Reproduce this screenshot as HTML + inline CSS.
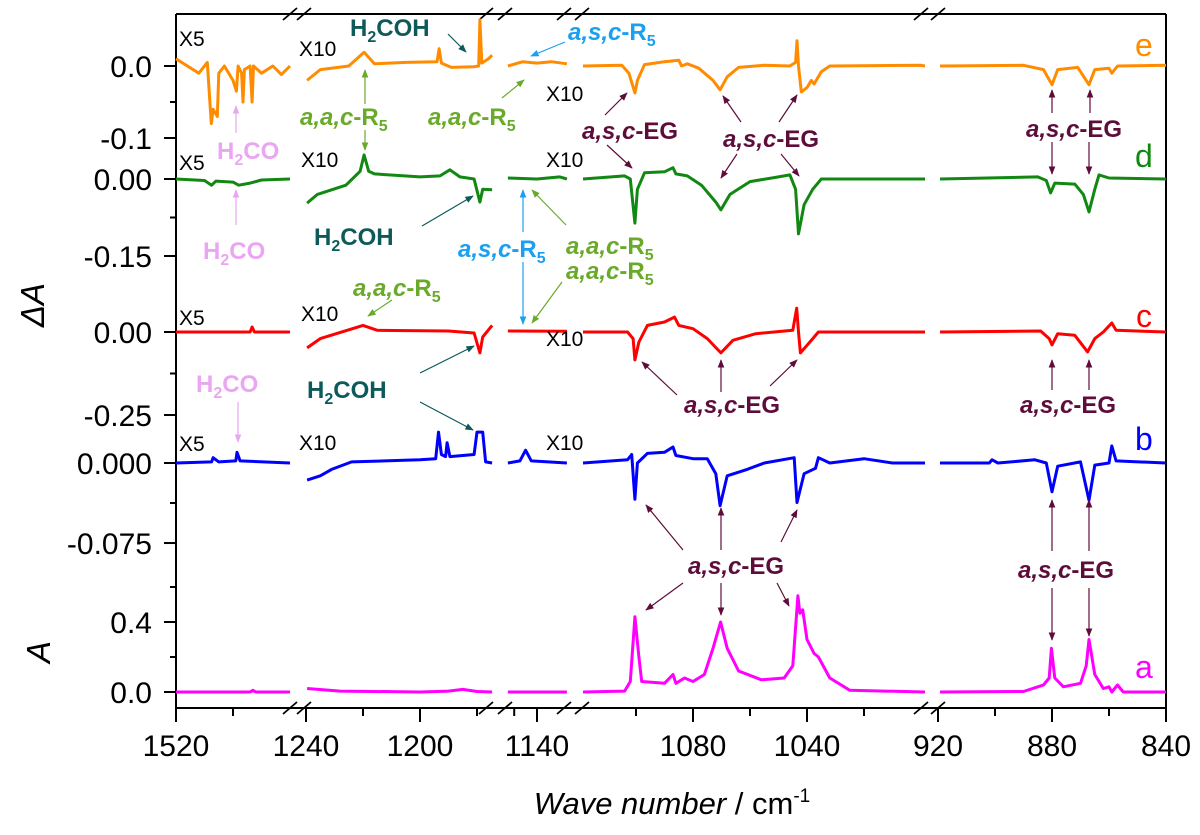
<!DOCTYPE html>
<html><head><meta charset="utf-8"><style>
html,body{margin:0;padding:0;background:#fff;}
svg{display:block;font-family:"Liberation Sans",Arial,sans-serif;}
</style></head><body>
<svg id="chart" width="1200" height="835" viewBox="0 0 1200 835" xmlns="http://www.w3.org/2000/svg">
<defs>
<marker id="mEG" viewBox="0 0 10 10" refX="9" refY="5" markerWidth="7" markerHeight="7" orient="auto-start-reverse"><path d="M0,1 L10,5 L0,9 z" fill="#5e0d3b"/></marker>
<marker id="mGR" viewBox="0 0 10 10" refX="9" refY="5" markerWidth="7" markerHeight="7" orient="auto-start-reverse"><path d="M0,1 L10,5 L0,9 z" fill="#6aaa2a"/></marker>
<marker id="mBL" viewBox="0 0 10 10" refX="9" refY="5" markerWidth="7" markerHeight="7" orient="auto-start-reverse"><path d="M0,1 L10,5 L0,9 z" fill="#1aa0f0"/></marker>
<marker id="mTE" viewBox="0 0 10 10" refX="9" refY="5" markerWidth="7" markerHeight="7" orient="auto-start-reverse"><path d="M0,1 L10,5 L0,9 z" fill="#0e5a5a"/></marker>
<marker id="mPK" viewBox="0 0 10 10" refX="9" refY="5" markerWidth="7" markerHeight="7" orient="auto-start-reverse"><path d="M0,1 L10,5 L0,9 z" fill="#eaa6f2"/></marker>
</defs>
<g id="axes"></g>
<g id="traces"></g>
<g id="annot" font-weight="bold" font-size="24">
  <g font-weight="normal" font-size="21" fill="#000">
    <text x="179" y="46">X5</text><text x="179" y="170">X5</text><text x="179" y="325">X5</text><text x="179" y="451">X5</text>
    <text x="299" y="56">X10</text><text x="301" y="167">X10</text><text x="301" y="321">X10</text><text x="299" y="450">X10</text>
    <text x="546" y="101">X10</text><text x="546" y="167">X10</text><text x="546" y="346">X10</text><text x="546" y="450">X10</text>
  </g>
  <g font-weight="normal" font-size="32">
    <text x="1135" y="56" fill="#ff8c00">e</text>
    <text x="1135" y="167" fill="#118811">d</text>
    <text x="1136" y="327" fill="#ff0000">c</text>
    <text x="1135" y="450" fill="#0000ff">b</text>
    <text x="1135" y="678" fill="#ff00ff">a</text>
  </g>
  <g fill="#eaa6f2" stroke="#eaa6f2">
    <text x="217" y="159" stroke="none">H<tspan font-size="16" dy="6">2</tspan><tspan dy="-6">CO</tspan></text>
    <line x1="236" y1="133" x2="236" y2="106" stroke-width="1.2" marker-end="url(#mPK)"/>
    <text x="203" y="259" stroke="none">H<tspan font-size="16" dy="6">2</tspan><tspan dy="-6">CO</tspan></text>
    <line x1="236" y1="225" x2="236" y2="190" stroke-width="1.2" marker-end="url(#mPK)"/>
    <text x="196" y="392" stroke="none">H<tspan font-size="16" dy="6">2</tspan><tspan dy="-6">CO</tspan></text>
    <line x1="238" y1="402" x2="238" y2="442" stroke-width="1.2" marker-end="url(#mPK)"/>
  </g>
  <g fill="#0e5a5a" stroke="#0e5a5a">
    <text x="350" y="36" stroke="none">H<tspan font-size="16" dy="6">2</tspan><tspan dy="-6">COH</tspan></text>
    <line x1="448" y1="34" x2="466" y2="52" stroke-width="1.2" marker-end="url(#mTE)"/>
    <text x="314" y="245" stroke="none">H<tspan font-size="16" dy="6">2</tspan><tspan dy="-6">COH</tspan></text>
    <line x1="422" y1="226" x2="473" y2="196" stroke-width="1.2" marker-end="url(#mTE)"/>
    <text x="307" y="398" stroke="none">H<tspan font-size="16" dy="6">2</tspan><tspan dy="-6">COH</tspan></text>
    <line x1="420" y1="373" x2="474" y2="346" stroke-width="1.2" marker-end="url(#mTE)"/>
    <line x1="420" y1="402" x2="473" y2="430" stroke-width="1.2" marker-end="url(#mTE)"/>
  </g>
  <g fill="#6aaa2a" stroke="#6aaa2a">
    <text x="300" y="125" stroke="none"><tspan font-style="italic">a,a,c</tspan>-R<tspan font-size="16" dy="6">5</tspan></text>
    <line x1="365" y1="104" x2="365" y2="70" stroke-width="1.2" marker-end="url(#mGR)"/>
    <line x1="365" y1="130" x2="365" y2="150" stroke-width="1.2" marker-end="url(#mGR)"/>
    <text x="428" y="125" stroke="none"><tspan font-style="italic">a,a,c</tspan>-R<tspan font-size="16" dy="6">5</tspan></text>
    <line x1="502" y1="98" x2="524" y2="80" stroke-width="1.2" marker-end="url(#mGR)"/>
    <text x="353" y="296" stroke="none"><tspan font-style="italic">a,a,c</tspan>-R<tspan font-size="16" dy="6">5</tspan></text>
    <line x1="392" y1="300" x2="368" y2="316" stroke-width="1.2" marker-end="url(#mGR)"/>
    <text x="566" y="254" stroke="none"><tspan font-style="italic">a,a,c</tspan>-R<tspan font-size="16" dy="6">5</tspan></text>
    <text x="566" y="279" stroke="none"><tspan font-style="italic">a,a,c</tspan>-R<tspan font-size="16" dy="6">5</tspan></text>
    <line x1="566" y1="225" x2="532" y2="190" stroke-width="1.2" marker-end="url(#mGR)"/>
    <line x1="562" y1="282" x2="532" y2="323" stroke-width="1.2" marker-end="url(#mGR)"/>
  </g>
  <g fill="#1aa0f0" stroke="#1aa0f0">
    <text x="568" y="40" stroke="none"><tspan font-style="italic">a,s,c</tspan>-R<tspan font-size="16" dy="6">5</tspan></text>
    <line x1="565" y1="42" x2="531" y2="56" stroke-width="1.2" marker-end="url(#mBL)"/>
    <text x="458" y="257" stroke="none"><tspan font-style="italic">a,s,c</tspan>-R<tspan font-size="16" dy="6">5</tspan></text>
    <line x1="523" y1="232" x2="523" y2="190" stroke-width="1.2" marker-end="url(#mBL)"/>
    <line x1="523" y1="262" x2="523" y2="324" stroke-width="1.2" marker-end="url(#mBL)"/>
  </g>
  <g fill="#5e0d3b" stroke="#5e0d3b">
    <text x="582" y="139" stroke="none"><tspan font-style="italic">a,s,c</tspan>-EG</text>
    <line x1="605" y1="115" x2="627" y2="93" stroke-width="1.2" marker-end="url(#mEG)"/>
    <line x1="607" y1="145" x2="632" y2="168" stroke-width="1.2" marker-end="url(#mEG)"/>
    <text x="723" y="147" stroke="none"><tspan font-style="italic">a,s,c</tspan>-EG</text>
    <line x1="741" y1="122" x2="723" y2="96" stroke-width="1.2" marker-end="url(#mEG)"/>
    <line x1="779" y1="122" x2="797" y2="95" stroke-width="1.2" marker-end="url(#mEG)"/>
    <line x1="737" y1="154" x2="721" y2="178" stroke-width="1.2" marker-end="url(#mEG)"/>
    <line x1="781" y1="154" x2="799" y2="176" stroke-width="1.2" marker-end="url(#mEG)"/>
    <text x="1026" y="137" stroke="none"><tspan font-style="italic">a,s,c</tspan>-EG</text>
    <line x1="1052" y1="113" x2="1052" y2="90" stroke-width="1.2" marker-end="url(#mEG)"/>
    <line x1="1090" y1="113" x2="1090" y2="90" stroke-width="1.2" marker-end="url(#mEG)"/>
    <line x1="1052" y1="142" x2="1052" y2="174" stroke-width="1.2" marker-end="url(#mEG)"/>
    <line x1="1089" y1="142" x2="1089" y2="174" stroke-width="1.2" marker-end="url(#mEG)"/>
    <text x="684" y="413" stroke="none"><tspan font-style="italic">a,s,c</tspan>-EG</text>
    <line x1="677" y1="395" x2="642" y2="362" stroke-width="1.2" marker-end="url(#mEG)"/>
    <line x1="721" y1="392" x2="721" y2="360" stroke-width="1.2" marker-end="url(#mEG)"/>
    <line x1="770" y1="386" x2="797" y2="360" stroke-width="1.2" marker-end="url(#mEG)"/>
    <text x="1020" y="413" stroke="none"><tspan font-style="italic">a,s,c</tspan>-EG</text>
    <line x1="1052" y1="390" x2="1052" y2="360" stroke-width="1.2" marker-end="url(#mEG)"/>
    <line x1="1089" y1="390" x2="1089" y2="360" stroke-width="1.2" marker-end="url(#mEG)"/>
    <text x="688" y="574" stroke="none"><tspan font-style="italic">a,s,c</tspan>-EG</text>
    <line x1="683" y1="550" x2="646" y2="505" stroke-width="1.2" marker-end="url(#mEG)"/>
    <line x1="721" y1="550" x2="721" y2="508" stroke-width="1.2" marker-end="url(#mEG)"/>
    <line x1="781" y1="542" x2="797" y2="510" stroke-width="1.2" marker-end="url(#mEG)"/>
    <line x1="683" y1="583" x2="646" y2="610" stroke-width="1.2" marker-end="url(#mEG)"/>
    <line x1="721" y1="583" x2="721" y2="615" stroke-width="1.2" marker-end="url(#mEG)"/>
    <line x1="777" y1="583" x2="789" y2="606" stroke-width="1.2" marker-end="url(#mEG)"/>
    <text x="1018" y="578" stroke="none"><tspan font-style="italic">a,s,c</tspan>-EG</text>
    <line x1="1052" y1="551" x2="1052" y2="500" stroke-width="1.2" marker-end="url(#mEG)"/>
    <line x1="1089" y1="551" x2="1089" y2="500" stroke-width="1.2" marker-end="url(#mEG)"/>
    <line x1="1052" y1="588" x2="1052" y2="640" stroke-width="1.2" marker-end="url(#mEG)"/>
    <line x1="1089" y1="588" x2="1089" y2="636" stroke-width="1.2" marker-end="url(#mEG)"/>
  </g>
</g>
<text transform="translate(44,305) rotate(-90)" text-anchor="middle" font-size="33" font-style="italic">ΔA</text>
<text transform="translate(50,652) rotate(-90)" text-anchor="middle" font-size="33" font-style="italic">A</text>
<text x="672" y="814" text-anchor="middle" font-size="31"><tspan font-style="italic">Wave number</tspan> / cm<tspan font-size="19" dy="-12">-1</tspan></text>
</svg>
<script>
const panelStart = [1520, 1240, 1140, 1080, 920];
const panelMajorTicks = [[1520],[1240,1200],[1140],[1080,1040],[920,880,840]];
const panelMinorTicks = [[1500],[1220,1180],[1148],[1100,1060,1020],[900,860]];
const segE_ticks = [0.0,-0.1]; const segE_labels = ["0.0","-0.1"]; const segE_minor=[-0.05];
const segD_ticks = [0.0,-0.15]; const segD_labels = ["0.00","-0.15"]; const segD_minor=[-0.075];
const segC_ticks = [0.0,-0.25]; const segC_labels = ["0.00","-0.25"]; const segC_minor=[-0.125];
const segB_ticks = [0.0,-0.075]; const segB_labels = ["0.000","-0.075"]; const segB_minor=[-0.0375];
const segA_ticks = [0.0,0.4]; const segA_labels = ["0.0","0.4"]; const segA_minor=[0.2,0.6];

const e_p1 = [[1520,0.01],[1516,0.0],[1512,-0.01],[1509,0.005],[1507.6,-0.08],[1507,-0.06],[1505.5,-0.07],[1505,-0.01],[1503,0.0],[1500,-0.02],[1498.8,-0.035],[1498.2,0.0],[1497,-0.01],[1496.5,-0.05],[1496,-0.005],[1494,0.0],[1493.3,-0.05],[1492.8,0.0],[1490,-0.01],[1486,0.0],[1483,-0.012],[1480,0.0]];
const e_p2 = [[1239.6,-0.02],[1235,-0.005],[1225,0.0],[1219.6,0.019],[1216,0.003],[1205,0.005],[1194,0.006],[1193.3,0.024],[1192.5,0.004],[1189,-0.002],[1181,-0.001],[1179.4,0.0],[1179,0.064],[1178.3,0.004],[1176,0.01],[1174.7,0.015]];
const e_p3 = [[1150.2,0.0],[1145,0.006],[1140,0.004],[1135,0.006],[1129.5,0.003]];
const e_p4 = [[1118.6,0],[1105,0.001],[1102.5,-0.01],[1100.4,-0.0375],[1099.5,-0.02],[1097,0.002],[1090,0.006],[1085,0.008],[1084,0.0],[1082,0.003],[1078,-0.003],[1073,-0.02],[1070.5,-0.033],[1068,-0.015],[1064,-0.002],[1055,0.001],[1046,0.0],[1044,0.005],[1043.5,0.035],[1043,0.0],[1042,-0.036],[1040,-0.03],[1038.5,-0.02],[1037.5,-0.025],[1035,-0.008],[1032,0.0],[1000,0.001],[998.6,0]];
const e_p5 = [[919.3,0.0],[890,0.001],[883,-0.005],[880,-0.026],[878,-0.005],[871,-0.002],[867,-0.026],[865,-0.005],[860,-0.003],[859,-0.01],[857,0.0],[840,0.001]];
const d_p1 = [[1520,0],[1510,-0.003],[1507.5,-0.012],[1506,-0.004],[1500,-0.006],[1498,-0.012],[1494,-0.008],[1490,-0.002],[1480,0]];
const d_p2 = [[1239.6,-0.047],[1236,-0.03],[1231,-0.021],[1226,-0.012],[1221,0.015],[1219.6,0.047],[1218,0.015],[1216,0.01],[1200,0.004],[1193,0.006],[1189.5,0.018],[1186,0.004],[1181,0.0],[1179,-0.045],[1178,-0.02],[1174.7,-0.021]];
const d_p3 = [[1150.2,0.002],[1140,0.0],[1132,0.004],[1129.5,0.0]];
const d_p4 = [[1118.6,0],[1104,0.006],[1102,0.0],[1100.4,-0.086],[1099.5,-0.02],[1097,0.012],[1090,0.014],[1087,0.022],[1086,0.01],[1082,0.006],[1077,-0.012],[1072,-0.045],[1070.2,-0.06],[1067,-0.03],[1060,-0.005],[1050,0.004],[1046,0.008],[1044,-0.02],[1043,-0.107],[1041,-0.05],[1038,-0.02],[1035,0.0],[998.6,0]];
const d_p5 = [[919.3,0],[885,0.004],[882,-0.003],[880.5,-0.027],[879,-0.008],[872,-0.01],[869,-0.03],[867,-0.064],[865,-0.02],[863.5,0.008],[860,0.002],[840,0]];
const c_p1 = [[1520,0],[1494,0],[1493.3,0.015],[1492.5,0],[1480,0]];
const c_p2 = [[1239.6,-0.048],[1235,-0.02],[1220,0.02],[1215,0.005],[1190,0.003],[1181,-0.003],[1179,-0.063],[1178,-0.015],[1174.7,0.02]];
const c_p3 = [[1150.2,0.003],[1129.5,0.002]];
const c_p4 = [[1118.6,0],[1103,0],[1101,-0.02],[1100.4,-0.084],[1099,-0.03],[1096,0.02],[1090,0.03],[1086.5,0.045],[1085,0.02],[1080,0.01],[1075,-0.02],[1070.2,-0.063],[1066,-0.025],[1058,-0.005],[1045,0.005],[1043.6,0.072],[1043,0.0],[1042.3,-0.063],[1039,-0.03],[1036,0.0],[998.6,0]];
const c_p5 = [[919.3,0],[884,0.003],[881,-0.02],[880,-0.039],[878,-0.005],[872,-0.01],[867.5,-0.06],[865,-0.02],[862,0.0],[859,0.027],[857.5,0.005],[840,0]];
const b_p1 = [[1520,0],[1507.5,0.001],[1507,0.005],[1505,0.001],[1499,0.002],[1498.6,0.01],[1497.5,0.002],[1480,0]];
const b_p2 = [[1239.6,-0.016],[1235,-0.012],[1231,-0.006],[1224,0.001],[1200,0.003],[1194.5,0.004],[1193.5,0.029],[1192.5,0.008],[1191,0.006],[1190.5,0.019],[1189.5,0.006],[1181,0.008],[1180,0.029],[1178,0.029],[1177,0.001],[1174.7,0]];
const b_p3 = [[1150.2,0],[1146,0.002],[1144,0.012],[1142,0.002],[1129.5,0]];
const b_p4 = [[1118.6,0],[1103,0.003],[1101.5,0.008],[1100.4,-0.034],[1099.5,0.0],[1096,0.009],[1090,0.01],[1087,0.015],[1086,0.007],[1080,0.004],[1075,0.004],[1072,-0.01],[1070.5,-0.04],[1068,-0.012],[1061,-0.006],[1055,0.0],[1044.5,0.005],[1043.5,-0.037],[1041,-0.01],[1037,-0.005],[1036,0.005],[1032,0.0],[1020,0.004],[1010,0.0],[998.6,0]];
const b_p5 = [[919.3,0],[902,0],[901,0.003],[899,0],[886,0.003],[882,0.0],[880,-0.027],[878,-0.003],[870,0.001],[867,-0.035],[865,-0.002],[860,0],[859,0.016],[857.5,0.002],[840,0]];
const a_p1 = [[1520,0],[1494,0],[1493,0.01],[1492,0],[1480,0]];
const a_p2 = [[1239.6,0.02],[1228,0.005],[1200,0.0],[1190,0.005],[1185,0.015],[1180,0.003],[1174.7,0.0]];
const a_p3 = [[1150.2,0],[1129.5,0]];
const a_p4 = [[1118.6,0],[1104,0.005],[1102,0.06],[1100.4,0.43],[1099,0.2],[1098,0.06],[1090,0.05],[1087,0.1],[1086,0.05],[1083,0.08],[1080,0.06],[1076,0.1],[1073,0.25],[1070.3,0.40],[1068,0.25],[1064,0.12],[1056,0.07],[1048,0.08],[1045,0.15],[1043.2,0.55],[1042.5,0.45],[1041.5,0.47],[1040,0.3],[1037.5,0.22],[1036,0.2],[1032,0.08],[1025,0.01],[998.6,0]];
const a_p5 = [[919.3,0],[890,0.003],[885,0.03],[883,0.04],[881,0.08],[880.2,0.25],[879,0.08],[876,0.03],[870,0.05],[868,0.15],[867,0.30],[865,0.1],[862,0.02],[860,0.03],[859,0.0],[857,0.04],[855,0.0],[840,0]];

const NS = "http://www.w3.org/2000/svg";
const panelPx = [176, 306, 537, 693, 938];
const PXU = 2.85;
function xScale(p, w){ return panelPx[p] + (panelStart[p] - w) * PXU; }
const segs = { e:{y0:66,k:720}, d:{y0:179,k:513.3}, c:{y0:332,k:332}, b:{y0:463,k:1067}, a:{y0:692,k:175} };
function yScale(s, v){ return segs[s].y0 - v * segs[s].k; }
function mk(tag, attrs, parent){ const el=document.createElementNS(NS,tag); for(const k in attrs) el.setAttribute(k,attrs[k]); parent.appendChild(el); return el; }

const axes = document.getElementById('axes');
const L=176, R=1166, T=14, B=708;
let f;
f = mk('line',{x1:L,y1:T,x2:L,y2:B,stroke:'#000','stroke-width':2},axes);
 
f = mk('line',{x1:R,y1:T,x2:R,y2:B,stroke:'#000','stroke-width':2},axes);
 
f = mk('line',{x1:L,y1:T,x2:R,y2:T,stroke:'#000','stroke-width':2},axes);
 
f = mk('line',{x1:L,y1:B,x2:R,y2:B,stroke:'#000','stroke-width':2},axes);
 
const breaks = [[290,304],[486,505],[564,582],[921,938]];
breaks.forEach(pair=>{ pair.forEach(cx=>{ [T,B].forEach(cy=>{
  const s = mk('line',{x1:cx-7,y1:cy+6,x2:cx+7,y2:cy-6,stroke:'#000','stroke-width':1.8},axes);
  
  
});});});
for(let p=0;p<5;p++){
  panelMajorTicks[p].forEach(w=>{
    const x=xScale(p,w);
    const t=mk('line',{x1:x,y1:B,x2:x,y2:B+14,stroke:'#000','stroke-width':2},axes);
     
    const lb=mk('text',{x:x,y:B+48,'text-anchor':'middle','font-size':30},axes);
    lb.textContent=String(w);
     
  });
  panelMinorTicks[p].forEach(w=>{
    const x=xScale(p,w);
    const t=mk('line',{x1:x,y1:B,x2:x,y2:B+8,stroke:'#000','stroke-width':2},axes);
     
  });
}
const ySets = [['e',segE_ticks,segE_labels,segE_minor],['d',segD_ticks,segD_labels,segD_minor],['c',segC_ticks,segC_labels,segC_minor],['b',segB_ticks,segB_labels,segB_minor],['a',segA_ticks,segA_labels,segA_minor]];
ySets.forEach(([s,ticks,labels,minor])=>{
  ticks.forEach((v,i)=>{
    const y=yScale(s,v);
    const t=mk('line',{x1:L-12,y1:y,x2:L,y2:y,stroke:'#000','stroke-width':2},axes);
     
    const lb=mk('text',{x:L-24,y:y+11,'text-anchor':'end','font-size':30},axes);
    lb.textContent=labels[i];
     
  });
  minor.forEach(v=>{
    const y=yScale(s,v);
    const t=mk('line',{x1:L-6,y1:y,x2:L,y2:y,stroke:'#000','stroke-width':2},axes);
     
  });
});
const traces = document.getElementById('traces');
const traceDefs = [
  ['e','#ff8c00',[e_p1,e_p2,e_p3,e_p4,e_p5]],
  ['d','#118811',[d_p1,d_p2,d_p3,d_p4,d_p5]],
  ['c','#ff0000',[c_p1,c_p2,c_p3,c_p4,c_p5]],
  ['b','#0000ff',[b_p1,b_p2,b_p3,b_p4,b_p5]],
  ['a','#ff00ff',[a_p1,a_p2,a_p3,a_p4,a_p5]]
];
traceDefs.forEach(([s,col,parts])=>{
  parts.forEach((pts,p)=>{
    const d = pts.map((q,i)=>(i?'L':'M')+xScale(p,q[0]).toFixed(1)+','+yScale(s,q[1]).toFixed(1)).join(' ');
    const path = mk('path',{d:d,fill:'none',stroke:col,'stroke-width':3,'stroke-linejoin':'round'},traces);
    
    
  });
});
</script>
</body></html>
